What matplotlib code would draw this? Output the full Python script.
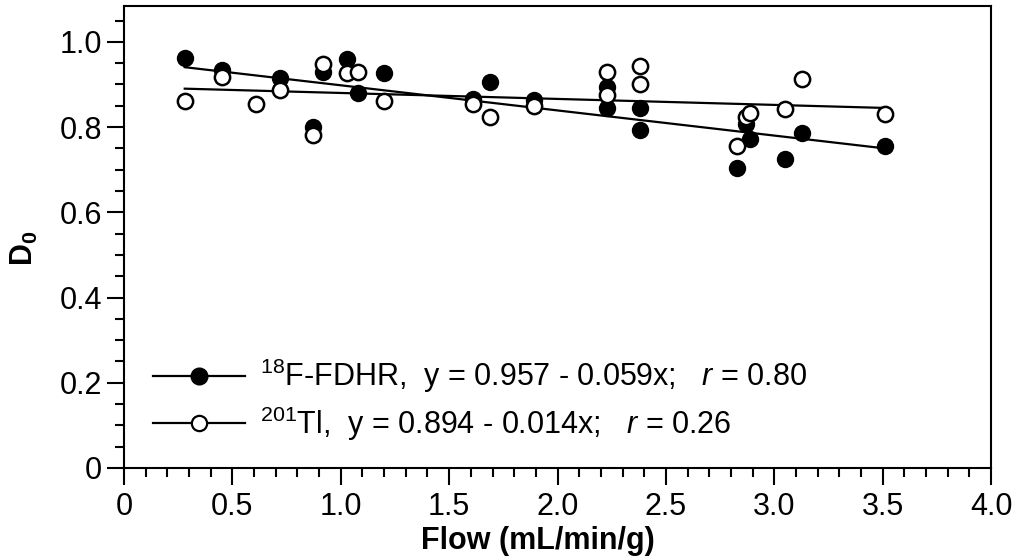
import matplotlib
matplotlib.use('Agg')

import matplotlib.pyplot as plt
from matplotlib.lines import Line2D
from matplotlib.ticker import MultipleLocator, FuncFormatter

plt.rcParams['font.family'] = ['Liberation Sans', 'DejaVu Sans']
plt.rcParams['mathtext.fontset'] = 'custom'
plt.rcParams['mathtext.rm'] = 'Liberation Sans'
plt.rcParams['mathtext.it'] = 'Liberation Sans:italic'
plt.rcParams['mathtext.bf'] = 'Liberation Sans:bold'
plt.rcParams['mathtext.default'] = 'regular'

# 18F-FDHR (filled circles)
fdhr_flow = [0.28, 0.45, 0.72, 0.87, 0.92, 1.03, 1.08, 1.20, 1.61, 1.69, 1.89,
             2.23, 2.23, 2.38, 2.38, 2.83, 2.87, 2.89, 3.05, 3.13, 3.51]
fdhr_d0 = [0.961, 0.935, 0.914, 0.800, 0.930, 0.959, 0.879, 0.926, 0.867, 0.905, 0.863,
           0.894, 0.844, 0.844, 0.793, 0.705, 0.808, 0.773, 0.724, 0.786, 0.755]

# 201Tl (open circles)
tl_flow = [0.28, 0.45, 0.61, 0.72, 0.87, 0.92, 1.03, 1.08, 1.20, 1.61, 1.69,
           1.89, 2.23, 2.23, 2.38, 2.38, 2.83, 2.87, 2.89, 3.05, 3.13, 3.51]
tl_d0 = [0.862, 0.918, 0.855, 0.887, 0.781, 0.949, 0.926, 0.930, 0.862, 0.855, 0.824,
         0.849, 0.930, 0.875, 0.943, 0.900, 0.755, 0.824, 0.832, 0.842, 0.912, 0.830]

# regression fits (intercept, slope) from the legend
fdhr_fit = (0.957, -0.059)
tl_fit = (0.894, -0.014)

fdhr_label = r'$^{18}$F-FDHR,  y = 0.957 - 0.059x;   $\mathit{r}$ = 0.80'
tl_label = r'$^{201}$Tl,  y = 0.894 - 0.014x;   $\mathit{r}$ = 0.26'

fig = plt.figure(figsize=(10.15, 5.58), dpi=100)
ax = fig.add_axes([0.1222, 0.1613, 0.8542, 0.8279])

for flow, fit in [(fdhr_flow, fdhr_fit), (tl_flow, tl_fit)]:
    xs = [min(flow), max(flow)]
    ax.plot(xs, [fit[0] + fit[1] * v for v in xs], color='black', lw=1.6, zorder=2)

ax.plot(fdhr_flow, fdhr_d0, 'o', ms=11.5, mfc='black', mec='black', mew=1.0, zorder=3)
ax.plot(tl_flow, tl_d0, 'o', ms=11, mfc='white', mec='black', mew=1.8, zorder=4)

ax.set_xlim(0, 4.0)
ax.set_ylim(0, 1.084)

ax.xaxis.set_major_locator(MultipleLocator(0.5))
ax.xaxis.set_minor_locator(MultipleLocator(0.1))
ax.yaxis.set_major_locator(MultipleLocator(0.2))
ax.yaxis.set_minor_locator(MultipleLocator(0.05))
fmt = FuncFormatter(lambda v, p: '0' if abs(v) < 1e-9 else '%.1f' % v)
ax.xaxis.set_major_formatter(fmt)
ax.yaxis.set_major_formatter(fmt)

ax.tick_params(which='both', direction='out', width=1.5, labelsize=22, top=False, right=False)
ax.tick_params(which='major', length=12, pad=4)
ax.tick_params(axis='x', which='major', pad=5)
ax.tick_params(which='minor', length=6.3)
for s in ax.spines.values():
    s.set_linewidth(1.5)

ax.set_xlabel('Flow (mL/min/g)', fontsize=22, fontweight='bold')
ax.xaxis.set_label_coords(0.4775, -0.125)
ax.set_ylabel(r'D$_\mathbf{0}$', fontsize=22, fontweight='bold')
ax.yaxis.set_label_coords(-0.097, 0.476)

handles = [
    Line2D([], [], color='black', lw=1.6, marker='o', ms=12, mfc='black', mec='black'),
    Line2D([], [], color='black', lw=1.6, marker='o', ms=11, mfc='white', mec='black', mew=1.6),
]
ax.legend(handles, [fdhr_label, tl_label], loc='lower left', bbox_to_anchor=(0.002, -0.005),
          frameon=False, fontsize=22, handlelength=3.0, handletextpad=0.5,
          labelspacing=0.3, numpoints=1)

fig.savefig('out.png', dpi=100)
